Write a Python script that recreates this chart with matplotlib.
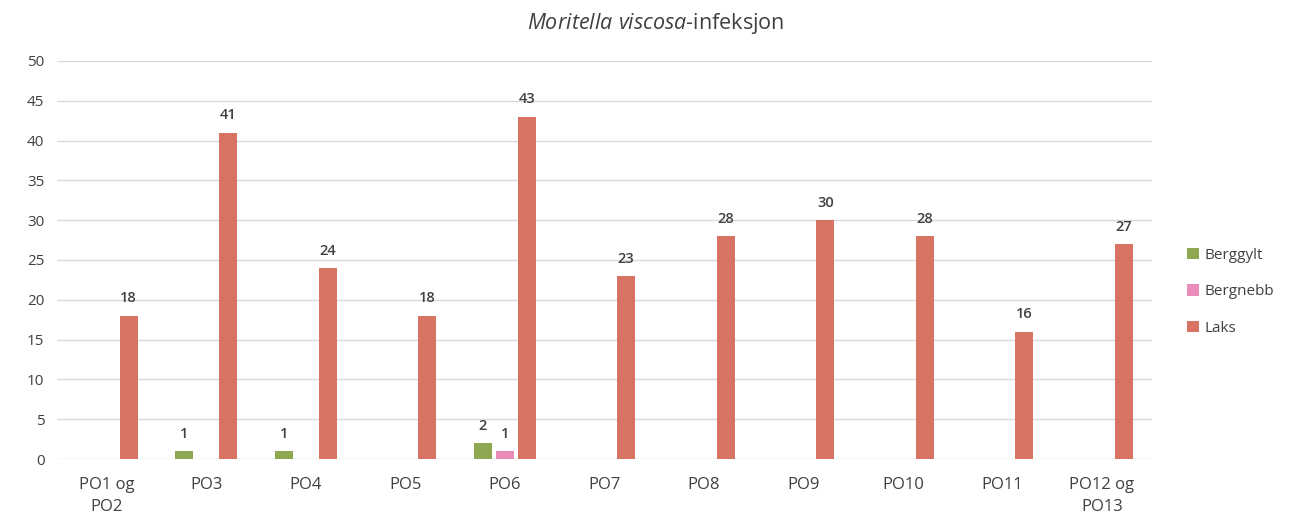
import matplotlib.pyplot as plt
import numpy as np

# Data
categories = ['PO1 og\nPO2', 'PO3', 'PO4', 'PO5', 'PO6', 'PO7', 'PO8', 'PO9', 'PO10', 'PO11', 'PO12 og\nPO13']
berggylt = [0, 1, 1, 0, 2, 0, 0, 0, 0, 0, 0]
bergnebb = [0, 0, 0, 0, 1, 0, 0, 0, 0, 0, 0]
laks = [18, 41, 24, 18, 43, 23, 28, 30, 28, 16, 27]

series = [('Berggylt', berggylt, '#8ea851'),
          ('Bergnebb', bergnebb, '#ea8cbb'),
          ('Laks', laks, '#d87262')]

plt.rcParams['font.family'] = ['Open Sans', 'DejaVu Sans']
plt.rcParams['mathtext.fontset'] = 'custom'
plt.rcParams['mathtext.it'] = 'Open Sans:italic'
plt.rcParams['mathtext.rm'] = 'Open Sans'
text_color = '#404040'

fig = plt.figure(figsize=(13.04, 5.21), dpi=100)
ax = fig.add_axes([0.0437, 0.119, 0.8395, 0.764])

x = np.arange(len(categories))
slot = 0.22
width = 0.18
for i, (name, vals, color) in enumerate(series):
    pos = x + (i - 1) * slot
    bars = ax.bar(pos, vals, width=width, color=color, label=name, zorder=3)
    for b, v in zip(bars, vals):
        if v > 0:
            ax.text(b.get_x() + b.get_width() / 2, v + 1.3, str(v),
                    ha='center', va='bottom', fontsize=10.5, fontweight='semibold',
                    color=text_color)

ax.set_xlim(-0.5, len(categories) - 0.5)
ax.set_ylim(0, 50)
ax.set_yticks(range(0, 51, 5))
ax.set_xticks(x)
ax.set_xticklabels(categories, fontsize=12, color=text_color, linespacing=1.5)
ax.tick_params(axis='y', labelsize=11, colors=text_color, length=0, pad=9)
ax.tick_params(axis='x', length=0, pad=13)
ax.grid(axis='y', color='#d9d9d9', linewidth=1, zorder=0)
for s in ax.spines.values():
    s.set_visible(False)

fig.text(0.503, 0.955, r'$\it{Moritella\ viscosa}$-infeksjon', fontsize=15.5,
         color=text_color, ha='center', va='center')

leg = ax.legend(loc='center left', bbox_to_anchor=(1.02, 0.42), frameon=False,
                fontsize=11, handlelength=0.75, handleheight=0.75,
                handletextpad=0.4, labelspacing=1.4)
for t in leg.get_texts():
    t.set_color(text_color)

plt.savefig('out.png', dpi=100)
